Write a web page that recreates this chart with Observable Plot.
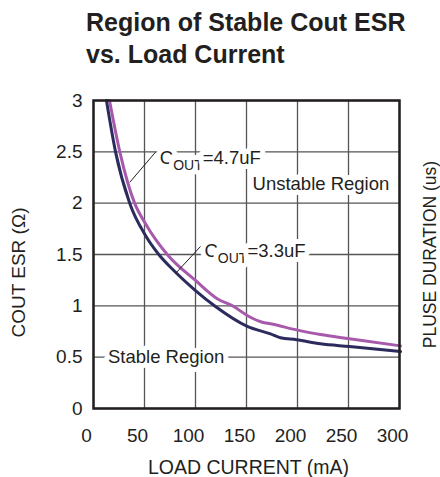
<!DOCTYPE html>
<html><head><meta charset="utf-8">
<script src="https://cdn.jsdelivr.net/npm/d3@7"></script>
<script src="https://cdn.jsdelivr.net/npm/@observablehq/plot@0.6"></script>
<style>
html,body{margin:0;padding:0;background:#fff;}
#wrap{width:440px;height:477px;position:relative;overflow:hidden;background:#fff;}
#title{position:absolute;left:86px;top:7px;font:bold 25px "Liberation Sans",Arial,sans-serif;line-height:31.6px;color:#231f20;white-space:nowrap;}
#chart{position:absolute;left:0;top:75px;}
</style></head><body>
<div id="wrap"><div id="title">Region of Stable Cout ESR<br>vs. Load Current</div><div id="chart"></div></div>
<script>
// Series: load current (mA) and Cout ESR (ohm)
const load47 = [15.7, 25.8, 40.3, 51, 72.3, 100, 121.3, 137.5, 150.7, 165.4, 173.5, 199, 222.5, 251, 301];
const esr47  = [3.0, 2.5, 2.0, 1.80, 1.5, 1.247, 1.07, 0.993, 0.906, 0.84, 0.825, 0.766, 0.72, 0.68, 0.61];
const load33 = [12.7, 21.6, 35.5, 51, 64, 78.7, 100, 119.6, 150.7, 173.5, 183.3, 199, 222.5, 251, 301];
const esr33  = [3.0, 2.5, 2.0, 1.685, 1.5, 1.344, 1.149, 0.993, 0.80, 0.727, 0.689, 0.67, 0.63, 0.604, 0.555];
const seriesNames = ["C_OUT=4.7uF", "C_OUT=3.3uF"];
const seriesColors = ["#a75aab", "#2c2b5d"];

const xTicks = [0, 50, 100, 150, 200, 250, 300];
const xTickLabels = ["0", "50", "100", "150", "200", "250", "300"];
const yTicks = [0, 0.5, 1, 1.5, 2, 2.5, 3];
const yTickLabels = ["0", "0.5", "1", "1.5", "2", "2.5", "3"];

const xLabel = "LOAD CURRENT (mA)";
const yLabel = "COUT ESR (\u03A9)";
const y2Label = "PLUSE DURATION (us)";

// annotations (data coordinates)
const annotations = [
  {label: "C_OUT=4.7uF", x: 65, y: 2.44},
  {label: "C_OUT=3.3uF", x: 108.8, y: 1.53},
  {label: "Unstable Region", x: 155.9, y: 2.19},
  {label: "Stable Region", x: 14.2, y: 0.5}
];
const leaders = [
  {x1: 60.8, y1: 2.497, x2: 35.6, y2: 2.204},
  {x1: 104.9, y1: 1.578, x2: 80.4, y2: 1.315}
];

const rows = [
  ...load47.map((x, i) => ({series: seriesNames[0], x, y: esr47[i]})),
  ...load33.map((x, i) => ({series: seriesNames[1], x, y: esr33[i]}))
];

const ink = "#231f20";
const grid = "#555";

const chart = Plot.plot({
  width: 440,
  height: 402,
  marginLeft: 93,
  marginRight: 41,
  marginTop: 25,
  marginBottom: 69,
  style: {fontFamily: "'Liberation Sans', Arial, sans-serif", fontSize: "19px", color: ink, background: "#fff"},
  x: {domain: [0, 300], label: null},
  y: {domain: [0, 3], label: null},
  color: {domain: seriesNames, range: seriesColors},
  marks: [
    Plot.ruleX(xTicks, {stroke: grid, strokeWidth: 1.3}),
    Plot.ruleY(yTicks, {stroke: grid, strokeWidth: 1.3}),
    Plot.text(annotations, {x: "x", y: "y", text: "label", textAnchor: "start", lineAnchor: "middle", fontSize: 18.5,
      fill: ink, stroke: "#fff", strokeWidth: 10, paintOrder: "stroke", className: "annot"}),
    Plot.axisX(xTicks, {tickSize: 0, tickPadding: 20, dx: -7, tickFormat: d => xTickLabels[xTicks.indexOf(d)], label: null, fontSize: 19}),
    Plot.axisY(yTicks, {tickSize: 0, tickPadding: 11, tickFormat: d => yTickLabels[yTicks.indexOf(d)], label: null, fontSize: 19}),
    Plot.line(rows, {x: "x", y: "y", z: "series", stroke: "series", strokeWidth: 3, curve: "monotone-x"}),
    Plot.link(leaders, {x1: "x1", y1: "y1", x2: "x2", y2: "y2", stroke: ink, strokeWidth: 1}),
    Plot.frame({stroke: ink, strokeWidth: 2.5}),
    Plot.text([xLabel], {frameAnchor: "bottom", textAnchor: "middle", lineAnchor: "middle", dx: 2, dy: 59.7, fontSize: 19.5, fill: ink}),
    Plot.text([yLabel], {frameAnchor: "left", textAnchor: "middle", lineAnchor: "middle", rotate: -90, dx: -75, dy: 18, fontSize: 19, fill: ink}),
    Plot.text([y2Label], {frameAnchor: "right", textAnchor: "middle", lineAnchor: "middle", rotate: -90, dx: 31, fontSize: 17.5, fill: ink})
  ]
});

// render subscripts in C_OUT labels
chart.querySelectorAll("g.annot text").forEach(t => {
  const s = t.textContent;
  const m = s.match(/^C_OUT(=.*)$/);
  if (!m) return;
  t.textContent = "C";
  const ns = "http://www.w3.org/2000/svg";
  const sub = document.createElementNS(ns, "tspan");
  sub.setAttribute("font-size", "14");
  sub.setAttribute("dy", "6");
  sub.textContent = "OUT";
  const rest = document.createElementNS(ns, "tspan");
  rest.setAttribute("dy", "-6");
  rest.setAttribute("font-size", "18.5");
  rest.textContent = m[1];
  t.appendChild(sub);
  t.appendChild(rest);
});

document.getElementById("chart").appendChild(chart);
</script>
</body></html>
